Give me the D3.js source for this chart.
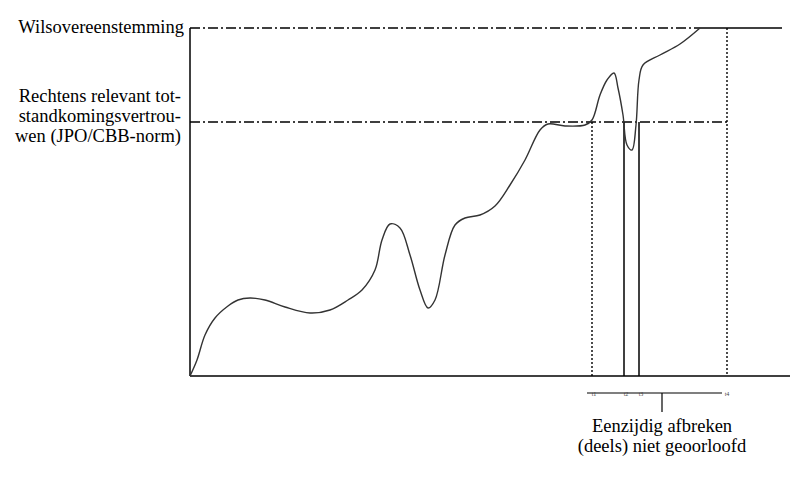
<!DOCTYPE html><html><head><meta charset="utf-8"><script src="https://cdn.jsdelivr.net/npm/d3@7"></script>
<style>body{margin:0;background:#fff}text{font-family:"Liberation Serif","DejaVu Serif",serif}</style></head><body>
<svg id="c" width="800" height="482"></svg>
<script>
const curveX=[0,7,15,25,38,48,60,75,95,120,140,158,172,185,192,200,210,220,230,238,245,255,265,275,290,305,320,335,350,358,375,395,402,410,417,424,428,433,437,442,446,449,453,470,490,510];
const curveY=[0,16,41,58,70,76,78,76,69,63,66,76,86,106,136,152,148,121,86,68,76,121,151,158,161,170,191,216,246,252,250,251,256,281,296,303,288,261,231,226,251,296,311,321,332,348];
const levels=[348,254];
const levelLabels=[["Wilsovereenstemming"],["Rechtens relevant tot-","standkomingsvertrou-","wen (JPO/CBB-norm)"]];
const markX=[402,434,449,537];
const tickLabels=["t1","t2","t3","t4"];
const svg=d3.select("#c");
const x=d3.scaleLinear().domain([0,600]).range([190,790]);
const y=d3.scaleLinear().domain([0,348]).range([376,28]);
const g=svg.append("g").attr("stroke","#000").attr("fill","none");
g.append("line").attr("x1",x(0)).attr("x2",x(600)).attr("y1",y(0)).attr("y2",y(0)).attr("stroke-width",1.5);
g.append("line").attr("x1",x(0)).attr("x2",x(0)).attr("y1",y(0)).attr("y2",y(348)).attr("stroke-width",1.5);
const dd="10,3,2,3";
g.append("line").attr("x1",x(0)).attr("x2",x(510)).attr("y1",y(levels[0])).attr("y2",y(levels[0])).attr("stroke-dasharray",dd).attr("stroke-width",1.3);
g.append("line").attr("x1",x(510)).attr("x2",x(592)).attr("y1",y(levels[0])).attr("y2",y(levels[0])).attr("stroke-width",1.3);
g.append("line").attr("x1",x(0)).attr("x2",x(markX[3])).attr("y1",y(levels[1])).attr("y2",y(levels[1])).attr("stroke-dasharray",dd).attr("stroke-width",1.3);
g.append("line").attr("x1",x(markX[0])).attr("x2",x(markX[0])).attr("y1",y(levels[1])).attr("y2",y(0)).attr("stroke-dasharray","2,2").attr("stroke-width",1.4);
g.append("line").attr("x1",x(markX[1])).attr("x2",x(markX[1])).attr("y1",y(levels[1])).attr("y2",y(0)).attr("stroke-width",1.5);
g.append("line").attr("x1",x(markX[2])).attr("x2",x(markX[2])).attr("y1",y(levels[1])).attr("y2",y(0)).attr("stroke-width",1.5);
g.append("line").attr("x1",x(markX[3])).attr("x2",x(markX[3])).attr("y1",y(levels[0])).attr("y2",y(0)).attr("stroke-dasharray","2,2").attr("stroke-width",1.4);
g.append("path").datum(curveX.map((v,i)=>[v,curveY[i]]))
 .attr("d",d3.line().x(d=>x(d[0])).y(d=>y(d[1])).curve(d3.curveCatmullRom.alpha(0.5)))
 .attr("stroke","#333").attr("stroke-width",1.4);
const ty=393;
g.append("line").attr("x1",x(397)).attr("x2",x(532)).attr("y1",ty).attr("y2",ty).attr("stroke-width",1.2);
g.append("line").attr("x1",x(472)).attr("x2",x(472)).attr("y1",ty).attr("y2",412).attr("stroke-width",1.2);
svg.selectAll(".tl").data(markX).enter().append("text").attr("x",d=>x(d)+(d===markX[3]?0:2)).attr("y",ty+3)
 .attr("font-size",6).attr("text-anchor","middle").attr("fill","#444").text((d,i)=>tickLabels[i]);
const t=svg.append("g").attr("font-size",18.5).attr("fill","#000");
t.append("text").attr("x",x(472)).attr("y",432).attr("text-anchor","middle").text("Eenzijdig afbreken");
t.append("text").attr("x",x(472)).attr("y",452).attr("text-anchor","middle").text("(deels) niet geoorloofd");
t.append("text").attr("x",184).attr("y",y(levels[0])+5).attr("text-anchor","end").text(levelLabels[0][0]);
levelLabels[1].forEach((s,i)=>t.append("text").attr("x",181).attr("y",102+i*20).attr("text-anchor","end").text(s));
</script></body></html>
